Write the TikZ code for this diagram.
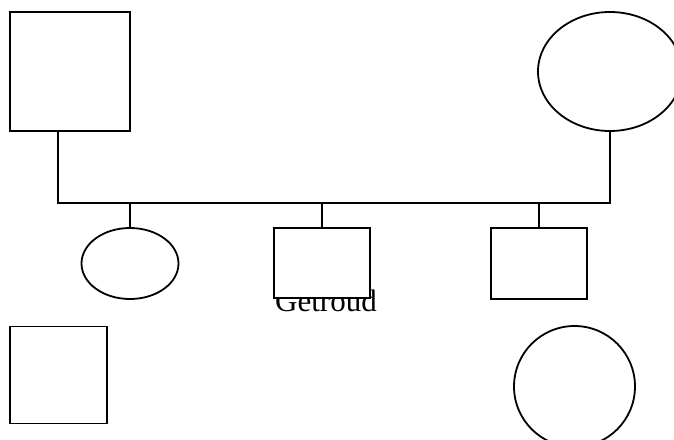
\documentclass[tikz,border=0pt]{standalone}
\usepackage{fontspec}
\setmainfont{Liberation Serif}
\usepackage{tikz}
\usetikzlibrary{shapes.geometric}

\begin{document}
\begin{tikzpicture}[x=1pt,y=-1pt,line width=1.8pt,
  male/.style={draw,fill=white,rectangle,inner sep=0pt},
  female/.style={draw,fill=white,ellipse,inner sep=0pt}]
\useasboundingbox (0,0) rectangle (674,439);

% parents
\node[male,minimum width=120pt,minimum height=119pt] (father) at (70,71.5) {};
\node[female,minimum width=144pt,minimum height=119pt] (mother) at (610,71.5) {};
\coordinate (bar) at (0,203);
\draw ([xshift=-12pt]father.south) |- (bar -| mother.south) -- (mother.south);

% children
\node[font=\fontsize{31}{33}\selectfont,anchor=base] (married) at (326,311) {Getroud};
\node[female,minimum width=97pt,minimum height=71pt] (kid1) at (130,263.5) {};
\node[male,minimum width=96pt,minimum height=70pt] (kid2) at (322,263) {};
\node[male,minimum width=96pt,minimum height=71pt] (kid3) at (539,263.5) {};
\draw (kid1.north) -- (kid1.north |- bar);
\draw (kid2.north) -- (kid2.north |- bar);
\draw (kid3.north) -- (kid3.north |- bar);

% bottom row
\node[male,minimum width=97pt,minimum height=97pt] (spouse) at (58.5,375) {};
\node[draw,circle,inner sep=0pt,minimum size=121pt] (partner) at (574.5,386.5) {};
\end{tikzpicture}
\end{document}
